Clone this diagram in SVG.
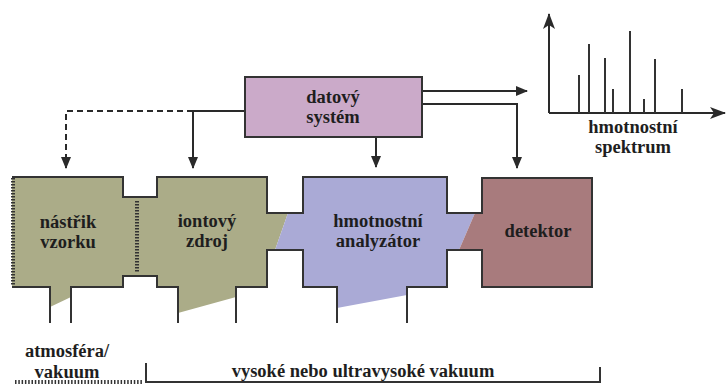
<svg xmlns="http://www.w3.org/2000/svg" width="726" height="385" viewBox="0 0 726 385">
  <defs>
    <marker id="arrow" viewBox="0 0 12 10" refX="11" refY="5" markerWidth="12" markerHeight="10" markerUnits="userSpaceOnUse" orient="auto">
      <path d="M0,0 L12,5 L0,10 Z" fill="#2a2a2a"/>
    </marker>
    <marker id="axisArrow" viewBox="0 0 16 12" refX="15" refY="6" markerWidth="16" markerHeight="12" markerUnits="userSpaceOnUse" orient="auto">
      <path d="M0,0 L16,6 L0,12 L4,6 Z" fill="#2a2a2a"/>
    </marker>
  </defs>
  <style>
    .lbl { font-family: "Liberation Serif", "Times New Roman", serif; font-weight: bold; font-size: 18.5px; fill: #1e1e1e; text-anchor: middle; }
    .wall { fill: none; stroke: #333333; stroke-width: 2; stroke-linejoin: miter; }
    .conn { fill: none; stroke: #2a2a2a; stroke-width: 2; }
    .dash { stroke-dasharray: 6 4; }
    .hatch { fill: none; stroke: #333333; stroke-width: 4; stroke-dasharray: 1.5 1.5; }
    .peak { stroke: #333333; stroke-width: 2; }
  </style>
  <rect width="726" height="385" fill="#ffffff"/>

  <!-- connectors from the data system -->
  <g id="connectors">
    <path class="conn" d="M422,91 H527" marker-end="url(#arrow)"/>
    <path class="conn" d="M422,104 H517 V168" marker-end="url(#arrow)"/>
    <path class="conn" d="M376,137 V167" marker-end="url(#arrow)"/>
    <path class="conn" d="M245,111 H193 V168" marker-end="url(#arrow)"/>
    <path class="conn dash" d="M193,111 H66 V168" marker-end="url(#arrow)"/>
  </g>

  <!-- data system -->
  <g id="datovy-system">
    <rect x="245" y="77" width="177" height="60" fill="#cbaac9" stroke="#333333" stroke-width="2"/>
    <text class="lbl" x="333" y="103">datový</text>
    <text class="lbl" x="333" y="123">systém</text>
  </g>

  <!-- instrument chambers: fills -->
  <g id="nastrik-vzorku">
    <path fill="#abac88" d="M12,177 H123 V197 H137 V276 H123 V287 H71 V297 L50,307 V287 H12 Z"/>
    <text class="lbl" x="68" y="228">nástřik</text>
    <text class="lbl" x="68" y="248">vzorku</text>
  </g>
  <g id="iontovy-zdroj">
    <path fill="#abac88" d="M137,197 H157 V177 H267 V213 H288 L275,250 H267 V287 H236 V297 L178,313 V287 H157 V276 H137 Z"/>
    <text class="lbl" x="207" y="227">iontový</text>
    <text class="lbl" x="207" y="247">zdroj</text>
  </g>
  <g id="hmotnostni-analyzator">
    <path fill="#aaaad6" d="M288,213 H303 V177 H447 V213 H475 L459,250 H447 V287 H407 V295 L337,308 V287 H303 V250 H275 Z"/>
    <text class="lbl" x="378" y="227">hmotnostní</text>
    <text class="lbl" x="378" y="247">analyzátor</text>
  </g>
  <g id="detektor">
    <path fill="#a87b7d" d="M475,213 H482 V178 H592 V287 H482 V250 H459 Z"/>
    <text class="lbl" x="538" y="237">detektor</text>
  </g>

  <!-- chamber walls -->
  <g id="walls">
    <path class="wall" d="M12,177 H123 V197 H157 V177 H267 V213 H303 V177 H447 V213 H482 V178 H592 V287 H482 V250 H447 V287 H407 V323"/>
    <path class="wall" d="M337,323 V287 H303 V250 H267 V287 H236 V323"/>
    <path class="wall" d="M178,323 V287 H157 V276 H123 V287 H71 V323"/>
    <path class="wall" d="M50,323 V287 H12"/>
    <line class="hatch" x1="13" y1="178" x2="13" y2="286"/>
    <line class="hatch" x1="137" y1="201" x2="137" y2="273"/>
  </g>

  <!-- mass spectrum -->
  <g id="hmotnostni-spektrum">
    <path class="conn" d="M549,113 V14" marker-end="url(#axisArrow)"/>
    <path class="conn" d="M549,113 H725" marker-end="url(#axisArrow)"/>
    <line class="peak" x1="579" y1="113" x2="579" y2="75"/>
    <line class="peak" x1="589" y1="113" x2="589" y2="44"/>
    <line class="peak" x1="605" y1="113" x2="605" y2="58"/>
    <line class="peak" x1="613" y1="113" x2="613" y2="89"/>
    <line class="peak" x1="630" y1="113" x2="630" y2="31"/>
    <line class="peak" x1="644" y1="113" x2="644" y2="99"/>
    <line class="peak" x1="655" y1="113" x2="655" y2="59"/>
    <line class="peak" x1="682" y1="113" x2="682" y2="89"/>
    <text class="lbl" x="633" y="133">hmotnostní</text>
    <text class="lbl" x="633" y="153">spektrum</text>
  </g>

  <!-- pressure regions -->
  <g id="tlak">
    <text class="lbl" x="67" y="357">atmosféra/</text>
    <text class="lbl" x="67" y="378">vakuum</text>
    <line stroke="#333333" stroke-width="4" stroke-dasharray="1.5 1.8" x1="15" y1="382" x2="143" y2="382"/>
    <path class="wall" d="M146,363 V382 H600 V367"/>
    <text class="lbl" x="363" y="377">vysoké nebo ultravysoké vakuum</text>
  </g>
</svg>
